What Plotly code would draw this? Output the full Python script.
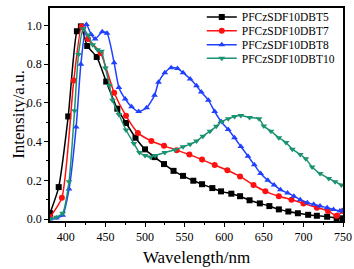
import plotly.graph_objects as go

# ---- data ----
x_dbt5 = [380, 391, 403, 414, 419, 427, 439, 451, 465, 476, 488, 500, 512, 524, 536, 548, 561, 572,
          585, 596, 609, 620, 632, 645, 657, 669, 681, 693, 706, 717, 730, 742, 750]
y_dbt5 = [0.03, 0.165, 0.53, 0.97, 0.995, 0.894, 0.837, 0.71, 0.57, 0.496, 0.42, 0.36, 0.32, 0.284,
          0.249, 0.223, 0.198, 0.18, 0.16, 0.143, 0.131, 0.118, 0.097, 0.081, 0.067, 0.05, 0.039,
          0.03, 0.022, 0.017, 0.012, 0.005, 0.004]

x_dbt7 = [380, 395, 410, 420, 428, 444, 461, 476, 491, 508, 524, 540, 556, 572, 588, 604, 620, 637,
          652, 669, 685, 700, 717, 731, 742, 750]
y_dbt7 = [0.01, 0.11, 0.715, 0.995, 0.93, 0.857, 0.652, 0.533, 0.445, 0.403, 0.378, 0.356, 0.333,
          0.307, 0.279, 0.252, 0.22, 0.176, 0.143, 0.118, 0.1, 0.081, 0.059, 0.042, 0.017, 0.042]

x_dbt8 = [380, 388, 396, 404, 413, 419, 426, 432, 437, 446, 452, 461, 467, 475, 483, 492, 502, 512,
          517, 525, 533, 541, 548, 557, 565, 571, 580, 588, 596, 605, 613, 621, 630, 638, 646, 655,
          663, 671, 680, 688, 696, 705, 713, 721, 730, 738, 746, 750]
y_dbt8 = [0.0, 0.005, 0.02, 0.155, 0.475, 0.8, 1.005, 0.953, 0.93, 0.967, 0.96, 0.807, 0.68, 0.62,
          0.58, 0.555, 0.575, 0.639, 0.706, 0.756, 0.782, 0.777, 0.756, 0.723, 0.689, 0.656, 0.614,
          0.555, 0.504, 0.462, 0.42, 0.375, 0.325, 0.28, 0.235, 0.2, 0.176, 0.151, 0.135, 0.118,
          0.1, 0.084, 0.076, 0.067, 0.059, 0.05, 0.042, 0.045]

x_dbt10 = [380, 388, 396, 404, 411, 416, 422, 428, 434, 440, 445, 450, 455, 459, 467, 476, 486, 493,
           500, 507, 513, 525, 538, 548, 557, 565, 573, 582, 590, 597, 605, 613, 621, 632, 644, 650,
           659, 669, 678, 686, 696, 703, 711, 721, 732, 740, 748]
y_dbt10 = [0.0, 0.01, 0.03, 0.193, 0.56, 0.85, 0.983, 0.95, 0.9, 0.874, 0.866, 0.78, 0.69, 0.614,
           0.54, 0.46, 0.39, 0.344, 0.328, 0.32, 0.328, 0.344, 0.358, 0.373, 0.387, 0.403, 0.428,
           0.454, 0.479, 0.504, 0.518, 0.53, 0.535, 0.525, 0.518, 0.48, 0.454, 0.42, 0.395, 0.361,
           0.333, 0.311, 0.269, 0.235, 0.21, 0.193, 0.176]

names = ["PFCzSDF10DBT5", "PFCzSDF10DBT7", "PFCzSDF10DBT8", "PFCzSDF10DBT10"]
colors = ["#000000", "#ff1010", "#2040ff", "#1b9272"]
symbols = ["square", "circle", "triangle-up", "triangle-down"]
xs = [x_dbt5, x_dbt7, x_dbt8, x_dbt10]
ys = [y_dbt5, y_dbt7, y_dbt8, y_dbt10]

FONT = "Liberation Serif"
legend_ids = ["legend", "legend2", "legend3", "legend4"]
legend_y = [0.958, 0.893, 0.828, 0.764]

fig = go.Figure()
for x, y, n, c, s, lid in zip(xs, ys, names, colors, symbols, legend_ids):
    fig.add_trace(go.Scatter(
        x=x, y=y, name=n, mode="lines+markers", legend=lid, showlegend=True,
        line=dict(color=c, width=1.5, shape="spline", smoothing=0.6),
        marker=dict(symbol=s, size=6, color=c),
    ))

axis_common = dict(
    showline=True, linecolor="black", linewidth=1.5, mirror=True,
    ticks="outside", ticklen=4, tickwidth=1, tickcolor="black",
    showgrid=False, zeroline=False,
    tickfont=dict(family=FONT, size=12, color="black"),
)

legend_common = dict(
    x=0.518, xanchor="left", yanchor="middle",
    bgcolor="rgba(0,0,0,0)", font=dict(family=FONT, size=11.5, color="black"),
    itemwidth=30,
)

fig.update_layout(
    width=354, height=269,
    margin=dict(l=46, r=11, t=2, b=48),
    paper_bgcolor="white", plot_bgcolor="white",
    font=dict(family=FONT, color="black"),
    showlegend=True,
    xaxis=dict(
        range=[380, 750], tickvals=[400, 450, 500, 550, 600, 650, 700, 750],
        minor=dict(ticks="outside", ticklen=2, dtick=25, tick0=0, tickcolor="black"),
        title=dict(text="Wavelength/nm", font=dict(family=FONT, size=17), standoff=8),
        **axis_common,
    ),
    yaxis=dict(
        range=[-0.01, 1.09], tickvals=[0.0, 0.2, 0.4, 0.6, 0.8, 1.0], tickformat=".1f",
        minor=dict(ticks="outside", ticklen=2, dtick=0.1, tick0=0, tickcolor="black"),
        title=dict(text=""),
        **axis_common,
    ),
    annotations=[dict(
        text="Intensity/a.u.", textangle=-90, xref="paper", yref="paper",
        x=-0.108, y=0.5, xanchor="center", yanchor="middle", showarrow=False,
        font=dict(family=FONT, size=17, color="black"),
    )],
    legend=dict(y=legend_y[0], **legend_common),
    legend2=dict(y=legend_y[1], **legend_common),
    legend3=dict(y=legend_y[2], **legend_common),
    legend4=dict(y=legend_y[3], **legend_common),
)

fig.write_html(
    "out.html",
    config={"displayModeBar": False},
    post_script="document.body.style.margin='0';document.body.style.overflow='hidden';",
)
